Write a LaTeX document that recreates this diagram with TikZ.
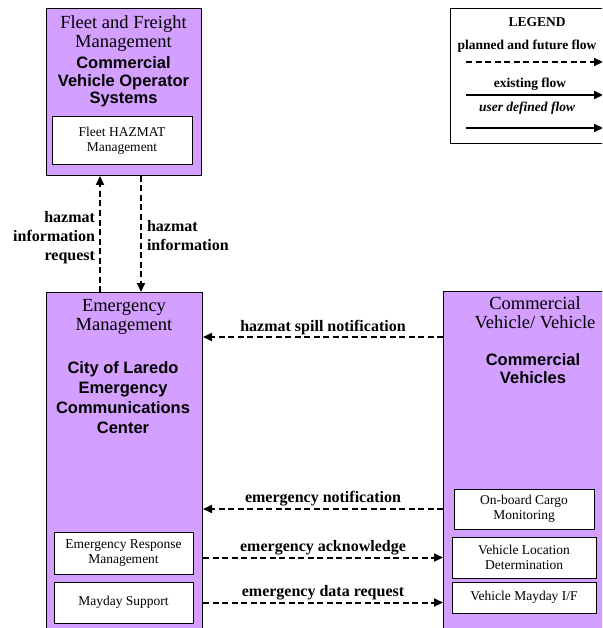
\documentclass[tikz,border=0pt]{standalone}
\usepackage{fontspec}
\setmainfont{Liberation Serif}
\newfontfamily\sansf{Liberation Sans}
\usetikzlibrary{arrows.meta}
\definecolor{purp}{RGB}{212,160,255}
\tikzset{
 bigbox/.style={draw=black, line width=1pt, fill=purp, anchor=north west, inner sep=0},
 subbox/.style={draw=black, line width=1pt, fill=white, inner sep=0, align=center, font=\fontsize{13.5}{15.5}\selectfont},
 ttl/.style={align=center, inner sep=0, font=\fontsize{18.5}{19}\selectfont},
 nm/.style={align=center, inner sep=0, font=\sansf\bfseries\fontsize{16.5}{18}\selectfont},
 flow/.style={line width=2pt, dash pattern=on 6pt off 3.5pt, -{Triangle[length=9pt,width=8pt]}},
 solidflow/.style={line width=2.2pt, -{Triangle[length=9pt,width=8pt]}},
 lbl/.style={font=\bfseries\fontsize{16}{19}\selectfont, inner sep=1.5pt},
 leg/.style={font=\bfseries\fontsize{13.5}{15}\selectfont, inner sep=0},
}
\begin{document}
\begin{tikzpicture}[x=1pt,y=-1pt]
\useasboundingbox (0,0) rectangle (602,628);
\clip (0,0) rectangle (602,628);
\fill[white] (0,0) rectangle (602,628);
% big boxes
\node[bigbox, minimum width=155pt, minimum height=167pt] (fleet) at (46,8) {};
\node[bigbox, minimum width=156pt, minimum height=400pt] (emer) at (46,292) {};
\node[bigbox, minimum width=200pt, minimum height=400pt] (comm) at (443,291) {};
% fleet
\node[ttl] (fleetttl) at (123.5,34) {Fleet and Freight\\Management};
\node[nm, font=\sansf\bfseries\fontsize{16.5}{17.5}\selectfont] (fleetnm) at (123.5,82) {Commercial\\Vehicle Operator\\Systems};
\node[subbox, minimum width=140pt, minimum height=48pt] (fhm) at (122,141) {Fleet HAZMAT\\Management};
% emergency
\node[ttl] (emerttl) at (124,317) {Emergency\\Management};
\node[nm, font=\sansf\bfseries\fontsize{16.5}{20}\selectfont] (emernm) at (123,398) {City of Laredo\\Emergency\\Communications\\Center};
\node[subbox, minimum width=139pt, minimum height=42pt] (erm) at (123.5,553) {Emergency Response\\Management};
\node[subbox, minimum width=139pt, minimum height=41pt] (mds) at (123.5,602.5) {Mayday Support};
% commercial vehicle
\node[ttl] (commttl) at (535,313) {Commercial\\Vehicle/ Vehicle};
\node[nm] (commnm) at (533,369) {Commercial\\Vehicles};
\node[subbox, minimum width=140pt, minimum height=40pt] (obc) at (524,509) {On-board Cargo\\Monitoring};
\node[subbox, minimum width=144pt, minimum height=41pt] (vld) at (524,557.5) {Vehicle Location\\Determination};
\node[subbox, minimum width=144pt, minimum height=31pt] (vmi) at (524,597.5) {Vehicle Mayday I/F};
% legend
\node[draw=black, line width=1pt, fill=white, anchor=north west, minimum width=170pt, minimum height=135pt, inner sep=0] (legend) at (450,8) {};
\node[leg] (legttl) at (537,22) {LEGEND};
\node[leg] (legpf) at (527,46) {planned and future flow};
\node[leg] (legex) at (530,84) {existing flow};
\node[leg, font=\bfseries\itshape\fontsize{13.5}{15}\selectfont] (legud) at (527,108) {user defined flow};
\coordinate (l1a) at (466,62); \coordinate (l1b) at (603,62);
\coordinate (l2a) at (466,95); \coordinate (l2b) at (603,95);
\coordinate (l3a) at (466,128); \coordinate (l3b) at (603,128);
\draw[flow] (l1a) -- (l1b);
\draw[solidflow] (l2a) -- (l2b);
\draw[solidflow, line width=2pt] (l3a) -- (l3b);
% flows
\coordinate (xq) at (100,0);
\coordinate (xi) at (141,0);
\coordinate (ys) at (0,337);
\draw[flow] (emer.north -| xq) -- node[lbl, left, align=right, inner sep=4pt, yshift=-4pt] (lq) {hazmat\\information\\request} (fleet.south -| xq);
\draw[flow] (fleet.south -| xi) -- node[lbl, right, align=left, inner sep=5pt, yshift=-2pt] (li) {hazmat\\information} (emer.north -| xi);
\draw[flow] (comm.west |- ys) -- node[lbl, above] (lhs) {hazmat spill notification} (emer.east |- ys);
\draw[flow] (comm.west |- obc) -- node[lbl, above] (len) {emergency notification} (emer.east |- obc);
\draw[flow] (emer.east |- vld) -- node[lbl, above] (lea) {emergency acknowledge} (comm.west |- vld);
\draw[flow] (emer.east |- mds) -- node[lbl, above] (ldr) {emergency data request} (comm.west |- mds);
\end{tikzpicture}
\end{document}
